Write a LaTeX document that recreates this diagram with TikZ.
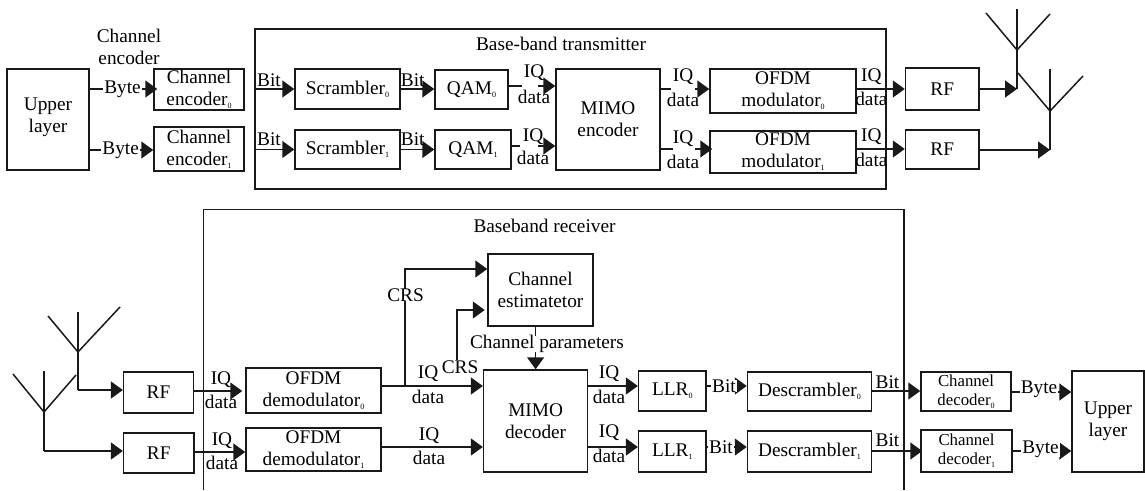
\documentclass[tikz,border=0pt]{standalone}
\usepackage{fontspec}
\setmainfont{Liberation Serif}
\usetikzlibrary{arrows.meta}
\newcommand{\sbs}[1]{\raisebox{-3pt}{\fontsize{8}{8}\selectfont #1}}
\newcommand{\up}[1]{\rule[-#1pt]{0pt}{0pt}}
\tikzset{
  ln/.style={draw=black!90,line width=1.5pt},
  arr/.style={ln,-{Triangle[length=12pt,width=17pt]}},
  bx/.style={draw=black!90,line width=1.5pt,inner sep=0pt,align=center,font=\fontsize{19.3}{22}\selectfont},
  sm/.style={font=\fontsize{16.8}{19}\selectfont},
  lb/.style={inner sep=0pt,align=center,font=\fontsize{19.3}{22}\selectfont},
  wlb/.style={lb,fill=white,inner xsep=1pt},
  gapm/.style={fill=white,inner sep=0pt,minimum height=4pt},
}
% name, x1, y1, x2, y2, text, extra
\newcommand{\bxn}[7][]{%
  \pgfmathsetmacro{\wid}{#4-#2}\pgfmathsetmacro{\hei}{#5-#3}%
  \pgfmathsetmacro{\cx}{(#2+#4)/2}\pgfmathsetmacro{\cy}{(#3+#5)/2}%
  \node[bx,minimum width=\wid pt,minimum height=\hei pt,#1] (#6) at (\cx,\cy) {#7};}
\newcommand{\hc}[4][]{\draw[arr,#1] (#2.east |- 0,#4) -- (#3.west |- 0,#4);}
\begin{document}
\begin{tikzpicture}[x=1pt,y=-1pt]
\useasboundingbox (0,0) rectangle (1145,490);
% ---------- transmitter ----------
\bxn{255}{29}{886}{189}{txbox}{}
\bxn{7}{69}{89}{170}{upT}{Upper\\layer\up{8}}
\bxn{154}{69}{244}{110}{enc0}{Channel\\encoder\sbs{0}}
\bxn{154}{127}{244}{171}{enc1}{Channel\\encoder\sbs{1}}
\bxn{295}{69}{400}{109}{scr0}{Scrambler\sbs{0}}
\bxn{295}{130}{400}{169}{scr1}{Scrambler\sbs{1}}
\bxn{435}{70}{508}{109}{qam0}{QAM\sbs{0}}
\bxn{435}{130}{511}{169}{qam1}{QAM\sbs{1}}
\bxn{556}{69}{660}{170}{mimoE}{MIMO\\encoder}
\bxn{710}{69}{856}{113}{mod0}{OFDM\\modulator\sbs{0}}
\bxn{710}{131}{856}{173}{mod1}{OFDM\\modulator\sbs{1}\up{4}}
\bxn{905.5}{68}{979}{110}{rfT0}{RF}
\bxn{905.5}{130}{979}{169}{rfT1}{RF}
\node[lb] (chlabel) at (129,47) {Channel\\encoder};
\node[lb] (txtitle) at (561,44) {Base-band transmitter};
\hc[shorten >=-4pt]{upT}{enc0}{89}
\hc{upT}{enc1}{150}
\node[wlb] (by0) at (122.5,89) {Byte};
\node[wlb] (by1) at (120.7,150) {Byte};
\draw[arr] (txbox.west |- scr0) -- (scr0.west);
\draw[arr] (txbox.west |- scr1) -- (scr1.west);
\node[lb] (bi0) at (269,80) {Bit};
\node[lb] (bi1) at (269,139) {Bit};
\hc{scr0}{qam0}{89}
\hc{scr1}{qam1}{149.5}
\node[lb] (bi2) at (412.7,80) {Bit};
\node[lb] (bi3) at (412.7,139) {Bit};
\hc{qam0}{mimoE}{86}
\hc{qam1}{mimoE}{146}
\node[gapm,minimum width=16pt] (g0) at (530,86) {};
\node[gapm,minimum width=18pt] (g1) at (529,146) {};
\node[lb] (iq0) at (534,73) {IQ};
\node[lb] (da0) at (534,97) {data};
\node[lb] (iq1) at (533,137) {IQ};
\node[lb] (da1) at (533,158) {data};
\hc{mimoE}{mod0}{89}
\hc[shorten >=-3pt]{mimoE}{mod1}{149}
\node[gapm,minimum width=24pt] (g2) at (683,89) {};
\node[gapm,minimum width=22pt] (g3) at (684,149) {};
\node[lb] (iq2) at (683,77) {IQ};
\node[lb] (da2) at (683,100) {data};
\node[lb] (iq3) at (683,139) {IQ};
\node[lb] (da3) at (683,162) {data};
\hc{mod0}{rfT0}{89}
\hc{mod1}{rfT1}{149}
\node[lb] (iq4) at (871.4,77) {IQ};
\node[lb] (da4) at (871.4,99) {data};
\node[lb] (iq5) at (871.4,137) {IQ};
\node[lb] (da5) at (871.4,160) {data};
\coordinate (antT0) at (1017,89);
\coordinate (antT1) at (1050,150);
\draw[arr] (rfT0.east |- antT0) -- (antT0);
\draw[arr] (rfT1.east |- antT1) -- (antT1);
\draw[ln] (antT0) -- (1017,9);
\draw[ln] (986,13) -- (1017,50) -- (1050,14);
\draw[ln] (antT1) -- (1050,69);
\draw[ln] (1018,73) -- (1050,111) -- (1083,76);
% ---------- receiver ----------
\draw[ln] (203.5,490) -- (203.5,209.5) -- (904,209.5) -- (904,490);
\node[lb] (rxtitle) at (544.5,226) {Baseband receiver};
\bxn{123.6}{372}{193.5}{413}{rfR0}{RF}
\bxn{123.6}{433}{194}{473}{rfR1}{RF}
\bxn{246}{368}{381}{413}{dem0}{OFDM\\demodulator\sbs{0}}
\bxn{246}{428}{381}{471}{dem1}{OFDM\\demodulator\sbs{1}}
\bxn{488}{254}{593}{326}{est}{Channel\\estimatetor}
\bxn{483.6}{370}{587.6}{472}{mimoD}{MIMO\\decoder}
\bxn{638.6}{371}{706}{411}{llr0}{LLR\sbs{0}}
\bxn{638.6}{431}{706}{472}{llr1}{LLR\sbs{1}}
\bxn{747.5}{372}{871.4}{411}{des0}{Descrambler\sbs{0}}
\bxn{747.5}{431}{871.4}{472}{des1}{Descrambler\sbs{1}}
\bxn[sm]{921}{372}{1011}{411}{dec0}{Channel\\decoder\sbs{0}}
\bxn[sm]{921}{430}{1012}{472}{dec1}{Channel\\decoder\sbs{1}}
\bxn{1072}{371}{1144}{472}{upR}{Upper\\layer}
\coordinate (antR0) at (78,390);
\coordinate (antR1) at (44,451);
\draw[arr] (antR0) -- (rfR0.west |- antR0);
\draw[arr] (antR1) -- (rfR1.west |- antR1);
\draw[ln] (antR0) -- (78,312);
\draw[ln] (48,316) -- (78,352) -- (120,307);
\draw[ln] (antR1) -- (44,371);
\draw[ln] (13,374) -- (44,412) -- (76,375);
\hc[shorten >=3pt]{rfR0}{dem0}{391}
\hc{rfR1}{dem1}{452}
\node[lb] (iq6) at (221,380) {IQ};
\node[lb] (da6) at (221,402) {data};
\node[lb] (iq7) at (222,441) {IQ};
\node[lb] (da7) at (222,463) {data};
\hc{dem0}{mimoD}{386}
\hc{dem1}{mimoD}{447}
\node[lb] (iq8) at (428,374) {IQ};
\node[lb] (da8) at (428,397) {data};
\node[lb] (iq9) at (429,436) {IQ};
\node[lb] (da9) at (429,458) {data};
\coordinate (tap) at (405,386);
\draw[arr] (tap) |- (est.west |- 0,269);
\node[wlb] (crs1) at (405.5,295) {CRS};
\node[lb] (crs2) at (460,367) {CRS};
\coordinate (crsB) at (457,310);
\draw[arr,shorten >=2.5pt] (crs2.north -| crsB) |- (est.west |- crsB);
\draw[arr] (est.south -| mimoD.north) -- (mimoD.north);
\node[wlb,inner ysep=-1pt] (par) at (547,344) {Channel parameters};
\hc{mimoD}{llr0}{386}
\hc{mimoD}{llr1}{447}
\node[lb] (iq10) at (609,374) {IQ};
\node[lb] (da10) at (609,397) {data};
\node[lb] (iq11) at (609,433) {IQ};
\node[lb] (da11) at (609,456) {data};
\hc{llr0}{des0}{386}
\hc{llr1}{des1}{447}
\node[wlb] (bi4) at (724,386) {Bit};
\node[wlb] (bi5) at (721,447) {Bit};
\hc{des0}{dec0}{391}
\hc[shorten >=-2pt]{des1}{dec1}{451}
\node[lb] (bi6) at (887.5,382) {Bit};
\node[lb] (bi7) at (887.5,440) {Bit};
\hc{dec0}{upR}{392}
\hc{dec1}{upR}{451}
\node[wlb] (by2) at (1039,389) {Byte};
\node[wlb] (by3) at (1040.5,449) {Byte};
\end{tikzpicture}
\end{document}
